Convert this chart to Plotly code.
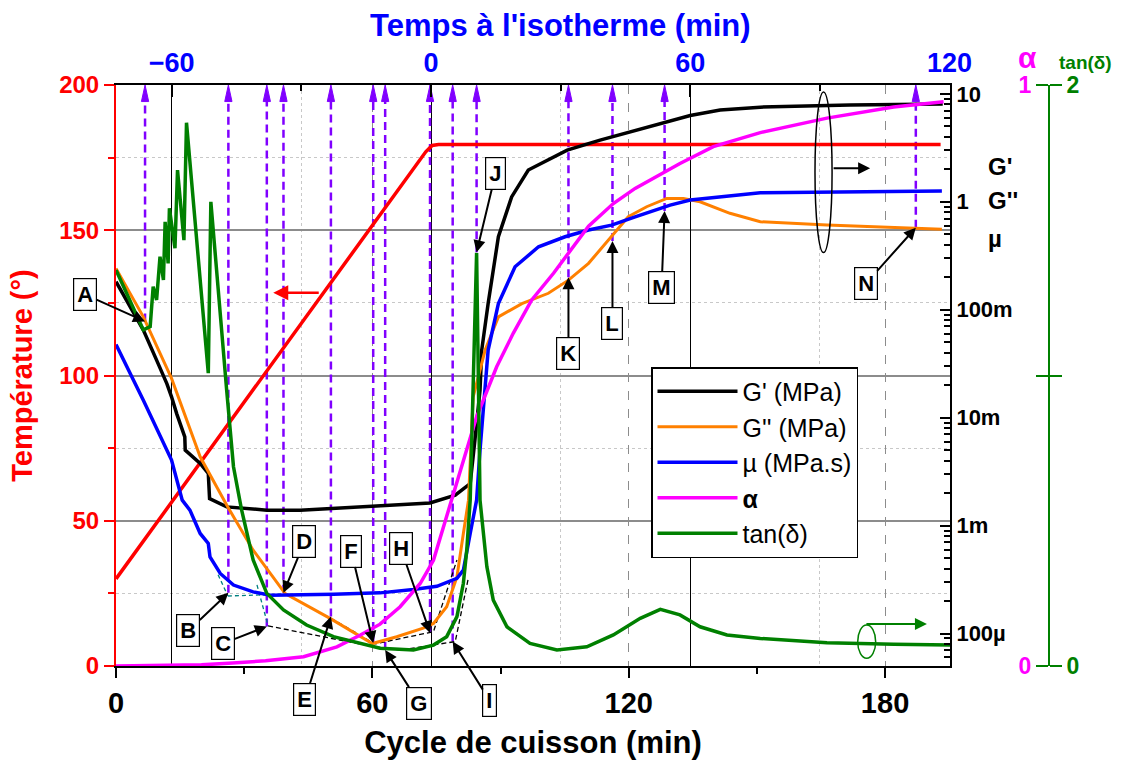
import numpy as np
import plotly.graph_objects as go

# ---- data (time axis = cure cycle, min) ----
temp_time = [0, 72.5, 74.0, 75.5, 193.0]
temp_val = [30, 177.0, 179.2, 179.5, 179.5]

gp_time = [0, 6.4, 9.5, 11.9, 13.0, 14.2, 16.1, 16.2, 19.7, 21.6, 21.9, 25.9, 35.3, 43.1, 59.9, 73.5, 79.4, 81.7,
           82.9, 84.0, 85.2, 85.6, 87.1, 89.5, 92.6, 96.5, 105.6, 113.3, 119.6, 129.0, 134.4, 141.4, 150.8, 171.8, 193.5]
gp_val = [0.182, 0.0647, 0.0341, 0.0207, 0.0156, 0.0109, 0.00664, 0.0050, 0.00377, 0.00304, 0.00178, 0.00149,
          0.00139, 0.00139, 0.00151, 0.00162, 0.00191, 0.00224, 0.00245, 0.00617, 0.0180, 0.0423, 0.114, 0.474,
          1.11, 1.97, 3.01, 3.73, 4.34, 5.48, 6.31, 7.08, 7.53, 7.87, 8.04]

gpp_time = [0, 6.4, 13.0, 19.7, 25.9, 32.1, 39.6, 50.1, 60.0, 65.7, 71.9, 74.3, 77.4, 79.8, 81.3, 82.5, 83.6, 86.4,
            89.5, 95.0, 101.2, 105.9, 110.6, 116.0, 119.9, 124.2, 128.9, 132.8, 136.7, 143.7, 150.8, 166.4, 187.4, 193.3]
gpp_val = [0.2415, 0.0859, 0.0231, 0.00434, 0.00155, 0.000592, 0.000234, 0.000138, 0.0000807, 0.0000933, 0.000112,
           0.000124, 0.000177, 0.000335, 0.000845, 0.00172, 0.0156, 0.0423, 0.0859, 0.114, 0.142, 0.188, 0.269,
           0.474, 0.726, 0.90, 1.074, 1.074, 1.0, 0.782, 0.653, 0.608, 0.566, 0.558]

mu_time = [0, 6.4, 13.0, 15.5, 17.3, 19.7, 21.6, 22.0, 24.4, 27.5, 32.1, 36.1, 50.9, 61.8, 69.6, 75.1, 79.8, 81.3,
           82.9, 84.4, 85.2, 87.1, 89.5, 93.4, 98.9, 105.1, 110.6, 116.0, 121.5, 129.7, 134.4, 150.8, 193.3]
mu_val = [0.0476, 0.01452, 0.00404, 0.00172, 0.00139, 0.000845, 0.000682, 0.000513, 0.00036, 0.000281, 0.000243,
          0.000226, 0.000231, 0.000238, 0.000256, 0.000274, 0.000324, 0.000386, 0.000845, 0.00172, 0.00501, 0.0423,
          0.114, 0.25, 0.383, 0.474, 0.547, 0.608, 0.726, 0.931, 1.037, 1.21, 1.256]

alpha_time = [0, 20, 27.3, 35, 43.9, 51.7, 57.1, 61.8, 66.5, 71.2, 74.3, 77.5, 84.4, 89.1, 93.0, 97.3, 102.4, 110.6,
              116.4, 121.5, 132.0, 139.8, 150.8, 166.4, 182.0, 193.7]
alpha_val = [0, 0.002, 0.005, 0.009, 0.016, 0.033, 0.053, 0.072, 0.102, 0.142, 0.182, 0.26, 0.429, 0.515, 0.573,
             0.63, 0.676, 0.757, 0.796, 0.822, 0.865, 0.894, 0.918, 0.943, 0.962, 0.971]

tand_time = [0, 6.4, 8.0, 8.7, 9.5, 10.3, 11.1, 11.5, 12.2, 12.5, 13.8, 14.4, 15.9, 16.5, 21.6, 22.2, 25.9, 27.5,
             29.4, 32.1, 35.3, 39.2, 44.6, 50.9, 61.8, 69.6, 74.3, 77.4, 79.8, 81.3, 82.1, 82.9, 84.4, 85.2, 86.8,
             88.3, 91.5, 96.9, 103.2, 110.2, 116.4, 122.7, 127.4, 132.0, 136.7, 143.0, 150.8, 166.4, 182.0, 195.2]
tand_val = [1.363, 1.157, 1.168, 1.306, 1.26, 1.409, 1.329, 1.529, 1.386, 1.576, 1.438, 1.707, 1.466, 1.870, 1.008,
            1.598, 0.95, 0.686, 0.537, 0.365, 0.25, 0.193, 0.141, 0.101, 0.061, 0.055, 0.072, 0.101, 0.17, 0.285,
            0.4, 0.571, 1.422, 0.571, 0.342, 0.227, 0.135, 0.078, 0.055, 0.066, 0.107, 0.164, 0.195, 0.176, 0.135,
            0.107, 0.095, 0.08, 0.075, 0.072]

# remarkable points A..N : time (min) and where the marker sits on the temperature scale
event_labels = list("ABCDEFGHIJKLMN")
event_time = [6.8, 26.3, 35.3, 39.2, 50.3, 60.2, 63.0, 73.5, 78.8, 84.4, 105.9, 116.2, 128.4, 187.2]
event_level = [118.6, 25.2, 13.6, 25.2, 17.0, 7.9, 5.5, 11.4, 8.4, 142.4, 133.8, 146.3, 156.6, 150.9]
label_dx = [-60, -40, -44, 21, -26, -22, 34, -29, 37, 19, 0, 0, -3, -50]
label_dy = [-27, 38, 17, -51, 83, -92, 53, -84, 59, -79, 76, 82, 76, 56]

# tangent constructions (time, temperature scale)
teal_time = [23.9, 26.2, None, 26.2, 40.7, None, 33.0, 35.6]
teal_level = [31.4, 24.1, None, 24.1, 24.8, None, 27.9, 13.8]
tang_time = [35.6, 60.1, 66.6, 79.4, 82.5, None, 50.3, 60.6, 74.3, 79.8]
tang_level = [13.8, 6.7, 5.5, 8.4, 30.5, None, 16.4, 7.6, 11.8, 36.5]

FONT = "Liberation Sans, Arial, sans-serif"
PURPLE = "#8000ff"


def px_x(p):
    return (p - 116) / 933


def px_y(p):
    return (666 - p) / 581


fig = go.Figure()

# purple event markers: dashed drop lines with a narrow arrow head at the top
ev_x, ev_y, head_x, head_y = [], [], [], []
for t, lv in zip(event_time, event_level):
    ev_x += [t, t, None]
    ev_y += [lv, 195, None]
    head_x += [t - 0.85, t, t + 0.85, t - 0.85, None]
    head_y += [194.3, 200, 194.3, 194.3, None]
fig.add_trace(go.Scatter(x=ev_x, y=ev_y, mode="lines", line=dict(color=PURPLE, width=2.5, dash="8px,5px"),
                         showlegend=False, hoverinfo="skip"))
fig.add_trace(go.Scatter(x=head_x, y=head_y, mode="lines", fill="toself", fillcolor=PURPLE,
                         line=dict(color=PURPLE, width=1), showlegend=False, hoverinfo="skip"))

fig.add_trace(go.Scatter(x=teal_time, y=teal_level, mode="lines", line=dict(color="#008080", width=1.3, dash="4px,3px"),
                         showlegend=False, hoverinfo="skip"))
fig.add_trace(go.Scatter(x=tang_time, y=tang_level, mode="lines", line=dict(color="black", width=1.3, dash="5px,3px"),
                         showlegend=False, hoverinfo="skip"))

fig.add_trace(go.Scatter(x=temp_time, y=temp_val, mode="lines", line=dict(color="#ff0000", width=3.5),
                         showlegend=False))

# invisible trace so the top (isotherm time) axis is drawn
fig.add_trace(go.Scatter(x=[-60, 120], y=[0, 0], xaxis="x2", mode="markers", marker=dict(opacity=0),
                         showlegend=False, hoverinfo="skip"))

fig.add_trace(go.Scatter(x=gp_time, y=gp_val, yaxis="y2", mode="lines", name="G' (MPa)",
                         line=dict(color="black", width=3.5)))
fig.add_trace(go.Scatter(x=gpp_time, y=gpp_val, yaxis="y2", mode="lines", name="G'' (MPa)",
                         line=dict(color="#ff8000", width=3)))
fig.add_trace(go.Scatter(x=mu_time, y=mu_val, yaxis="y2", mode="lines", name="µ (MPa.s)",
                         line=dict(color="#0000ff", width=3.5)))
fig.add_trace(go.Scatter(x=alpha_time, y=alpha_val, yaxis="y3", mode="lines", name="<b>α</b>",
                         line=dict(color="#ff00ff", width=3.5)))
fig.add_trace(go.Scatter(x=tand_time, y=tand_val, yaxis="y4", mode="lines", name="tan(δ)",
                         line=dict(color="#008000", width=3.5)))

annotations = []
for lab, t, lv, dx, dy in zip(event_labels, event_time, event_level, label_dx, label_dy):
    annotations.append(dict(x=t, y=lv, xref="x", yref="y", ax=dx, ay=dy, text=f"<b>{lab}</b>",
                            font=dict(family=FONT, size=22, color="black"), bgcolor="white",
                            bordercolor="black", borderwidth=1.2, borderpad=3, showarrow=True,
                            arrowhead=2, arrowsize=1.2, arrowwidth=2, arrowcolor="black"))

# arrows pointing to the relevant axis
annotations += [
    dict(x=36.8, y=128.5, xref="x", yref="y", ax=47, ay=0, text="", showarrow=True, arrowhead=2,
         arrowsize=1.2, arrowwidth=2.5, arrowcolor="#ff0000"),
    dict(x=176.5, y=171.3, xref="x", yref="y", ax=-38, ay=0, text="", showarrow=True, arrowhead=2,
         arrowsize=1.2, arrowwidth=2, arrowcolor="black"),
    dict(x=189.8, y=14.5, xref="x", yref="y", ax=-62, ay=0, text="", showarrow=True, arrowhead=2,
         arrowsize=1.2, arrowwidth=2, arrowcolor="#008000"),
]


def label(text, x, y, size, color, xanchor="center"):
    return dict(x=px_x(x), y=px_y(y), xref="paper", yref="paper", text=text, showarrow=False,
                xanchor=xanchor, yanchor="middle", font=dict(family=FONT, size=size, color=color))


# texts around the plot
annotations += [
    label("<b>Temps à l'isotherme (min)</b>", 560, 25, 31, "#0000ff"),
    label("<b>G'</b>", 986, 167, 24, "black", "left"),
    label("<b>G''</b>", 986, 201, 24, "black", "left"),
    label("<b>µ</b>", 986, 238, 24, "black", "left"),
    label("<b>α</b>", 1027, 57, 30, "#ff00ff"),
    label("<b>tan(δ)</b>", 1085, 62, 19, "#008000"),
]

shapes = [
    dict(type="circle", xref="x", yref="y", x0=163.6, x1=167.6, y0=142.3, y1=197.6,
         line=dict(color="black", width=1.5)),
    dict(type="circle", xref="x", yref="y", x0=173.6, x1=177.8, y0=2.65, y1=14.1,
         line=dict(color="#008000", width=1.5)),
]

fig.update_layout(
    width=1121, height=765,
    margin=dict(l=116, r=72, t=85, b=99, autoexpand=False),
    paper_bgcolor="white", plot_bgcolor="white",
    font=dict(family=FONT, color="black"),
    annotations=annotations, shapes=shapes,
    xaxis=dict(domain=[0, 834 / 933], range=[0, 195.2], tickvals=[0, 60, 120, 180], ticks="outside", ticklen=10,
               tickwidth=2, tickcolor="black", showline=True, linecolor="black", linewidth=2,
               showgrid=True, gridcolor="#8c8c8c", gridwidth=1, griddash="dash", zeroline=False,
               minor=dict(dtick=30, tick0=0, ticks="outside", ticklen=6, tickwidth=2, tickcolor="black", showgrid=False),
               tickfont=dict(family=FONT, size=29, color="black", weight="bold"),
               title=dict(text="<b>Cycle de cuisson (min)</b>", font=dict(family=FONT, size=31, color="black"),
                          standoff=14)),
    xaxis2=dict(overlaying="x", side="top", anchor="y", range=[-72.9, 120.1], tickvals=[-60, 0, 60, 120],
                ticks="inside", ticklen=12, tickwidth=2, tickcolor="black", showline=True, linecolor="black",
                linewidth=2, showgrid=True, gridcolor="black", gridwidth=1.3, zeroline=False,
                minor=dict(dtick=30, tick0=0, ticks="inside", ticklen=6, tickwidth=2, tickcolor="black",
                           showgrid=True, gridcolor="#c8c8c8", gridwidth=1, griddash="dot"),
                tickfont=dict(family=FONT, size=27, color="#0000ff", weight="bold")),
    yaxis=dict(range=[0, 200], tickvals=[0, 50, 100, 150, 200], ticks="outside", ticklen=10, tickwidth=2,
               tickcolor="#ff0000", showline=True, linecolor="#ff0000", linewidth=2, zeroline=False,
               showgrid=True, gridcolor="#8c8c8c", gridwidth=1.5,
               minor=dict(dtick=25, tick0=0, ticks="outside", ticklen=6, tickwidth=2, tickcolor="#ff0000",
                          showgrid=True, gridcolor="#c8c8c8", gridwidth=1, griddash="dot"),
               tickfont=dict(family=FONT, size=24, color="#ff0000", weight="bold"),
               title=dict(text="<b>Température (°)</b>", font=dict(family=FONT, size=29, color="#ff0000"),
                          standoff=18)),
    yaxis2=dict(overlaying="y", side="right", anchor="x", type="log", range=[np.log10(5e-5), np.log10(12.08)],
                tickvals=[1e-4, 1e-3, 1e-2, 1e-1, 1, 10], ticktext=["100µ", "1m", "10m", "100m", "1", "10"],
                ticks="inside", ticklen=10, tickwidth=2, tickcolor="black", showline=True, linecolor="black",
                linewidth=2, showgrid=False, zeroline=False,
                minor=dict(ticks="inside", ticklen=6, tickwidth=1.5, tickcolor="black", dtick="D1", showgrid=False),
                tickfont=dict(family=FONT, size=22, color="black", weight="bold")),
    yaxis3=dict(overlaying="y", anchor="free", position=1.0, side="left", range=[0, 1],
                tickvals=[0, 0.5, 1], ticktext=["0", "", "1"], ticks="outside", ticklen=12, tickwidth=2,
                tickcolor="#008000", showline=True, linecolor="#008000", linewidth=2, showgrid=False,
                zeroline=False, tickfont=dict(family=FONT, size=23, color="#ff00ff", weight="bold")),
    yaxis4=dict(overlaying="y", anchor="free", position=1.0, side="right", range=[0, 2],
                tickvals=[0, 1, 2], ticktext=["0", "", "2"], ticks="outside", ticklen=12, tickwidth=2,
                tickcolor="#008000", showline=True, linecolor="#008000", linewidth=2, showgrid=False,
                zeroline=False, tickfont=dict(family=FONT, size=23, color="#008000", weight="bold")),
    legend=dict(x=px_x(651), y=px_y(367), xanchor="left", yanchor="top", bgcolor="white",
                bordercolor="black", borderwidth=1.5, font=dict(family=FONT, size=25, color="black"),
                itemwidth=80, tracegroupgap=0),
)

fig.write_html("out.html", config={"displayModeBar": False},
               post_script="document.body.style.margin='0';")
